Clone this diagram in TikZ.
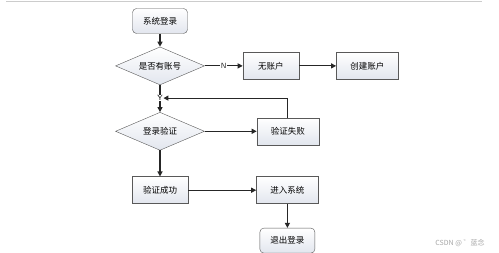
\documentclass[tikz,border=0pt]{standalone}
\usepackage{fontspec}
\newfontfamily\cjk{Noto Sans CJK SC}
\usetikzlibrary{arrows.meta,positioning,shapes.geometric}
\definecolor{boxfill}{HTML}{E2E6EE}

\begin{document}
\begin{tikzpicture}[
x=1pt,y=-1pt,
node distance=13pt and 38pt,
base/.style={draw=black!65,top color=white,bottom color=boxfill,inner sep=0pt,
font=\cjk\fontsize{8.5}{10}\selectfont},
term/.style={base,rounded corners=4pt,minimum width=55pt,minimum height=25pt},
proc/.style={base,minimum width=56pt,minimum height=27pt},
wproc/.style={proc,minimum width=62pt},
cond/.style={base,diamond,aspect=2.4,minimum width=89pt,minimum height=38pt},
arr/.style={-{Triangle[length=5pt,width=5pt]},line width=1.1pt,black!85},
lab/.style={fill=white,inner sep=0.6pt,font=\sffamily\fontsize{7.5}{8}\selectfont}
]
\useasboundingbox (0,0) rectangle (499,253);
\draw[black!20,line width=1.5pt] (6,1.5)--(482,1.5);
\node[term] (start) at (160,21) {系统登录};
\node[cond,below=13pt of start] (hasacc) {是否有账号};
\node[proc,right=38pt of hasacc] (noacc) {无账户};
\node[wproc,right=37pt of noacc] (newacc) {创建账户};
\node[cond,below=27pt of hasacc] (check) {登录验证};
\node[wproc,right=52pt of check] (fail) {验证失败};
\node[proc,below=26pt of check] (ok) {验证成功};
\node[wproc,right=68pt of ok] (enter) {进入系统};
\node[term,below=24pt of enter] (quit) {退出登录};
\draw[arr] (start)--(hasacc);
\draw[arr] (hasacc)--node[lab]{N}(noacc);
\draw[arr] (noacc)--(newacc);
\draw[arr] (hasacc)--(check);
\path (hasacc.south) ++(0,13) node[lab] (ylab) {Y};
\draw[arr] (fail.north) |- (ylab.east);
\draw[arr] (check)--(fail);
\draw[arr] (check)--(ok);
\draw[arr] (ok)--(enter);
\draw[arr] (enter)--(quit);
\node[text=black!35,font=\cjk\fontsize{7}{8}\selectfont] (mark) at (460,243) {CSDN @ ゛蓝念};
\end{tikzpicture}
\end{document}
